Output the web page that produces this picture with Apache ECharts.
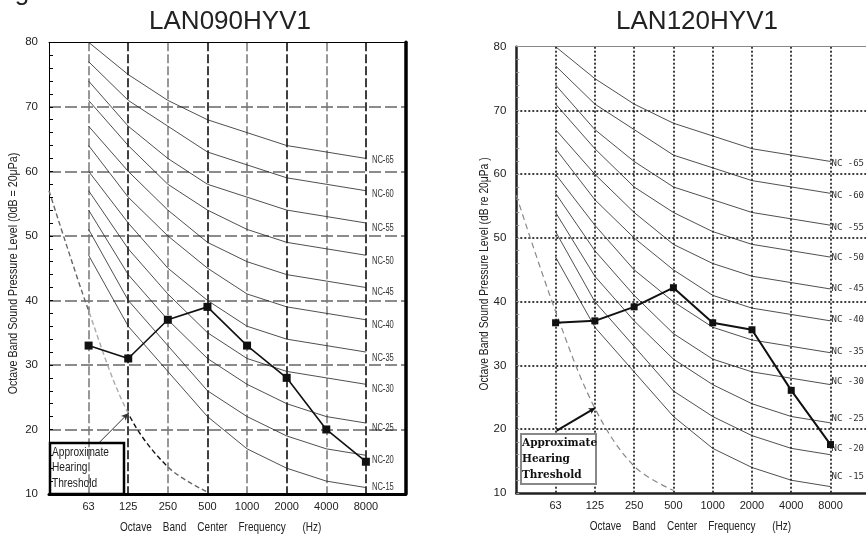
<!DOCTYPE html>
<html><head><meta charset="utf-8">
<script src="https://cdn.jsdelivr.net/npm/echarts@6/dist/echarts.min.js"></script>
<style>html,body{margin:0;padding:0;background:#fff}#c{width:866px;height:538px}</style>
</head><body><div id="c"></div>
<script>
// ---- data ----
const frequencies = ['63','125','250','500','1000','2000','4000','8000'];
const ncLevels = [15,20,25,30,35,40,45,50,55,60,65];
const nc15 = [47,36,29,22,17,14,12,11];
const nc20 = [51,40,33,26,22,19,17,16];
const nc25 = [54,44,37,31,27,24,22,21];
const nc30 = [57,48,41,35,31,29,28,27];
const nc35 = [60,52,45,40,36,34,33,32];
const nc40 = [64,56,50,45,41,39,38,37];
const nc45 = [67,60,54,49,46,44,43,42];
const nc50 = [71,64,58,54,51,49,48,47];
const nc55 = [74,67,62,58,56,54,53,52];
const nc60 = [77,71,67,63,61,59,58,57];
const nc65 = [80,75,71,68,66,64,63,62];
const unitLAN090 = [33,31,37,39,33,28,20,15];
const unitLAN120 = [36.7,37,39.2,42.2,36.7,35.6,26.1,17.6];
const thresholdPos = [0,1,2,3,4];
const thresholdLeft = [57,38.4,22.5,14.2,10.3];
const thresholdRight = [56.7,38.5,23.3,14.2,10.4];
const yTicks = [10,20,30,40,50,60,70,80];

const ncCurves = [nc15,nc20,nc25,nc30,nc35,nc40,nc45,nc50,nc55,nc60,nc65];
// label vertical nudges (style)
const leftLabelDy  = [0,5,5,5,6,5,5,6,5,4,2];
const rightLabelDy = [-10,-6,-4,-3,-1.5,-1,0,1,2,2.5,2];

const SANS = '"Liberation Sans",Arial,sans-serif';
const chart = echarts.init(document.getElementById('c'), null, {renderer:'canvas'});

function ncSeries(xi, yi, withLabel){
  return ncCurves.map((vals,k)=>({
    type:'line', xAxisIndex:xi, yAxisIndex:yi, silent:true, z:2,
    data: vals.map((v,i)=>[i+1,v]), symbol:'none', showSymbol:false,
    lineStyle:{color:'#222', width:0.8},
    endLabel: withLabel ? {show:true, formatter:'NC -'+ncLevels[k], offset:[0,rightLabelDy[k]],
      fontFamily:'"DejaVu Sans Mono",monospace', fontSize:9, color:'#333', distance:1} : {show:false}
  }));
}

const series = [].concat(
  ncSeries(0,0,false),
  ncSeries(2,2,true),
  [
    {type:'line', xAxisIndex:0, yAxisIndex:0, silent:true, z:3, smooth:0.35, symbol:'none',
     data: thresholdPos.map((p,i)=>[p,thresholdLeft[i]]),
     lineStyle:{width:1.4, type:[5,3]}},
    {type:'line', xAxisIndex:2, yAxisIndex:2, silent:true, z:3, smooth:0.35, symbol:'none',
     data: thresholdPos.map((p,i)=>[p,thresholdRight[i]]),
     lineStyle:{color:'#888', width:1.2, type:[6,4]}},
    {type:'line', xAxisIndex:0, yAxisIndex:0, silent:true, z:5, symbol:'rect', symbolSize:8,
     data: unitLAN090.map((v,i)=>[i+1,v]),
     itemStyle:{color:'#111'}, lineStyle:{color:'#111', width:1.6},
     markLine:{silent:true, symbol:['none','arrow'], symbolSize:[5,7], label:{show:false},
       lineStyle:{color:'#333', width:1, type:'solid'},
       data:[[{coord:[1.24,17.8]},{coord:[2,thresholdLeft[2]]}]]}},
    {type:'line', xAxisIndex:2, yAxisIndex:2, silent:true, z:5, symbol:'rect', symbolSize:7,
     data: unitLAN120.map((v,i)=>[i+1,v]),
     itemStyle:{color:'#111'}, lineStyle:{color:'#111', width:2},
     markLine:{silent:true, symbol:['none','arrow'], symbolSize:[5,6], label:{show:false},
       lineStyle:{color:'#111', width:2, type:'solid'},
       data:[[{coord:[1.03,19.8]},{coord:[2,thresholdRight[2]]}]]}}
  ]
);

const xLabel = {formatter:v=>frequencies[v-1]||'', fontFamily:SANS, fontSize:11, color:'#222', margin:7};
const yLabel = {fontFamily:SANS, fontSize:11.5, color:'#222'};
function gtext(id, x, y, text, size, sx, extra, styleExtra){
  return Object.assign({id:id, type:'text', x:x, y:y, scaleX:sx,
    style:Object.assign({text:text, font:size+'px '+SANS, fill:'#222', textAlign:'left', textVerticalAlign:'middle'}, styleExtra||{})}, extra||{});
}
const option = {
  animation:false,
  visualMap:[{type:'piecewise', show:false, dimension:0, seriesIndex:22,
    pieces:[{lt:1,color:'#666'},{gte:1,lt:2,color:'#aaa'},{gte:2,lt:3,color:'#111'},{gte:3,color:'#666'}]}],
  grid:[
    {left:49, top:42.3, width:356.5, height:451.7, outerBoundsMode:'none'},
    {left:516.3, top:46.7, width:353.5, height:446.3, outerBoundsMode:'none'}
  ],
  xAxis:[
    {gridIndex:0, type:'value', min:0, max:9, interval:1,
     axisLine:{show:true,onZero:false,lineStyle:{color:'#000',width:3}}, axisTick:{show:false},
     axisLabel:xLabel,
     splitLine:{show:true, showMinLine:false, showMaxLine:false, lineStyle:{color:['#777','#000'], type:[9,3], width:1.5}}},
    {gridIndex:0, type:'value', min:0, max:9, position:'top',
     axisLine:{show:true,onZero:false,lineStyle:{color:'#000',width:1}}, axisTick:{show:false}, axisLabel:{show:false}, splitLine:{show:false}},
    {gridIndex:1, type:'value', min:0, max:9, interval:1,
     axisLine:{show:true,onZero:false,lineStyle:{color:'#222',width:2.5}}, axisTick:{show:false},
     axisLabel:xLabel,
     splitLine:{show:true, showMinLine:false, showMaxLine:false, lineStyle:{color:'#000', type:[2,2], width:1.5}}},
    {gridIndex:1, type:'value', min:0, max:9, position:'top',
     axisLine:{show:true,onZero:false,lineStyle:{color:'#888',width:1}}, axisTick:{show:false}, axisLabel:{show:false}, splitLine:{show:false}}
  ],
  yAxis:[
    {gridIndex:0, type:'value', min:yTicks[0], max:yTicks[yTicks.length-1], interval:10,
     axisLine:{show:true,onZero:false,lineStyle:{color:'#000',width:1}},
     axisTick:{show:true,inside:true,length:4,lineStyle:{color:'#000'}},
     minorTick:{show:true,splitNumber:5,length:4,lineStyle:{color:'#000'}},
     axisLabel:Object.assign({margin:11}, yLabel),
     splitLine:{show:true, showMinLine:false, showMaxLine:false, lineStyle:{color:'#666', type:[12,4], width:1.5}}},
    {gridIndex:0, type:'value', min:10, max:80, position:'right',
     axisLine:{show:true,onZero:false,lineStyle:{color:'#000',width:3.5}}, axisTick:{show:false}, axisLabel:{show:false}, splitLine:{show:false}},
    {gridIndex:1, type:'value', min:yTicks[0], max:yTicks[yTicks.length-1], interval:10,
     axisLine:{show:true,onZero:false,lineStyle:{color:'#222',width:2.5}},
     axisTick:{show:true,inside:true,length:3,lineStyle:{color:'#999'}},
     minorTick:{show:true,splitNumber:5,length:3,lineStyle:{color:'#999'}},
     axisLabel:Object.assign({margin:10}, yLabel),
     splitLine:{show:true, showMinLine:false, showMaxLine:false, lineStyle:{color:'#000', type:[2,2], width:1.5}}}
  ],
  series: series,
  graphic:[
    {id:'g', type:'text', x:22, y:6, style:{text:'g', font:'26px '+SANS, fill:'#222', textAlign:'center', textVerticalAlign:'bottom'}},
    {id:'t1', type:'text', x:230, y:22, style:{text:'LAN090HYV1', font:'26px '+SANS, fill:'#222', textAlign:'center', textVerticalAlign:'middle'}},
    {id:'t2', type:'text', x:697, y:22, style:{text:'LAN120HYV1', font:'26px '+SANS, fill:'#222', textAlign:'center', textVerticalAlign:'middle'}},
    gtext('yt1', 13, 273.5, 'Octave Band Sound Pressure Level (0dB = 20μPa)', 13, 0.82, {rotation:Math.PI/2}, {textAlign:'center'}),
    gtext('yt2', 484.7, 274, 'Octave Band Sound Pressure Level (dB re 20μPa )', 13, 0.79, {rotation:Math.PI/2}, {textAlign:'center'}),
    gtext('xt1', 120, 527.3, 'Octave    Band    Center    Frequency      (Hz)', 13, 0.77),
    gtext('xt2', 589.7, 526.3, 'Octave    Band    Center    Frequency      (Hz)', 13, 0.77),
    {id:'b1', type:'rect', shape:{x:50, y:443, width:74, height:51}, style:{fill:'none', stroke:'#000', lineWidth:2.5}, z:10},
    gtext('bt1', 52, 467.7, 'Approximate\nHearing\nThreshold', 13, 0.78, {z:10}, {lineHeight:15.5}),
    {id:'b2', type:'rect', shape:{x:521, y:434, width:75, height:50}, style:{fill:'#fff', stroke:'#888', lineWidth:2}, z:10},
    {id:'bt2', type:'text', x:522, y:459.7, z:11, style:{text:'Approximate\nHearing\nThreshold', font:'bold 10.5px "DejaVu Serif",serif', lineHeight:16, fill:'#111', textAlign:'left', textVerticalAlign:'middle'}}
  ]
};
chart.setOption(option);

// NC labels for the left chart, positioned at each curve's 8000 Hz end through the axes
const ncLabelGraphics = ncCurves.map((vals,k)=>{
  const p = chart.convertToPixel({xAxisIndex:0, yAxisIndex:0}, [frequencies.length, vals[vals.length-1]]);
  return gtext('nc'+k, p[0]+6, p[1]+leftLabelDy[k], 'NC-'+ncLevels[k], 10, 0.76, {z:10}, {fill:'#333'});
});
chart.setOption({graphic: ncLabelGraphics});
</script></body></html>
